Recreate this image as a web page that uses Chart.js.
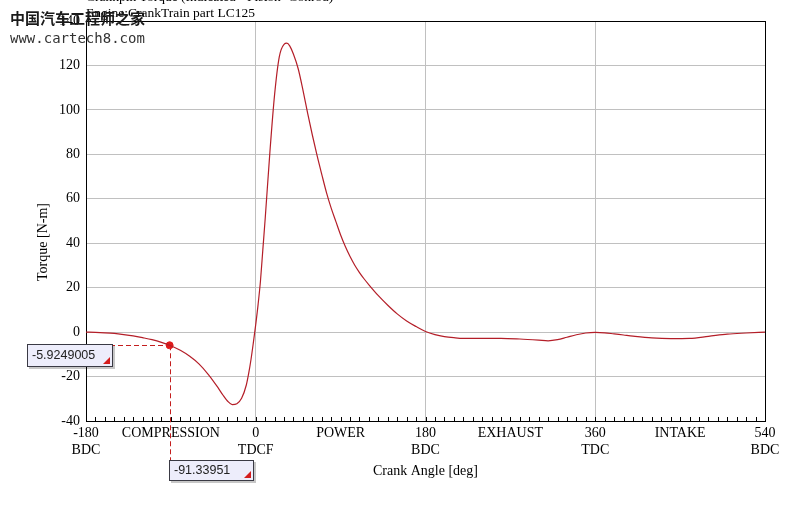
<!DOCTYPE html>
<html><head><meta charset="utf-8">
<script src="https://cdn.jsdelivr.net/npm/chart.js@4"></script>
<style>html,body{margin:0;padding:0;background:#fff;overflow:hidden;}</style>
</head><body>
<canvas id="c" width="805" height="514"></canvas>
<script>
const crankAngle = [-180,-170,-160,-150,-140,-130,-120,-110,-100,-91.33951,-80,-70,-60,-50,-40,-35,-30,-25,-20,-15,-10,-7.5,-5,-2.5,0,2.5,5,7.5,10,15,20,25,30,33,36,40,45,50,55,60,65,70,75,80,85,90,95,100,105,110,115,120,130,140,150,160,170,180,190,200,210,220,240,260,280,300,310,320,330,340,350,360,370,380,390,400,420,440,460,480,500,520,540];
const torque = [0,-0.1,-0.3,-0.6,-1.1,-1.7,-2.5,-3.4,-4.6,-5.9249005,-8.2,-10.9,-14.4,-19.2,-25.0,-28.2,-31.0,-32.6,-32.2,-29.8,-23.8,-18.6,-12.2,-4.6,3.5,12.5,23,37,51,81,107,124,129.5,130,128.8,125,118.5,109,98.5,88.7,79.5,71,62.8,55.8,49.7,43.7,38.5,34.0,30.1,26.8,23.9,21.3,16.4,12.1,8.2,5.0,2.5,0.3,-1.1,-2.0,-2.5,-2.8,-2.8,-2.8,-3.1,-3.6,-3.9,-3.4,-2.3,-1.2,-0.4,-0.1,-0.3,-0.8,-1.3,-1.8,-2.6,-2.9,-2.8,-1.9,-0.9,-0.4,0];
const cursorAngle = -91.33951;
const cursorTorque = -5.9249005;
const phaseTickValues = [-180,-90,0,90,180,270,360,450,540];
const phaseTickLabels = [["-180","BDC"],["COMPRESSION"],["0","TDCF"],["POWER"],["180","BDC"],["EXHAUST"],["360","TDC"],["INTAKE"],["540","BDC"]];
const xGridValues = [0,180,360];
const titleLines = ["Crankpin Torque (Indicated - Piston+Conrod)","Engine:CrankTrain part LC125"];
const watermarkLines = ["中国汽车工程师之家","www.cartech8.com"];
const xTitle = "Crank Angle [deg]";
const yTitle = "Torque [N-m]";

const SERIF = "'Liberation Serif', 'Times New Roman', serif";

function drawBox(ctx, x, y, w, h, text) {
  ctx.save();
  ctx.fillStyle = 'rgba(0,0,0,0.22)';
  ctx.fillRect(x + 2, y + 2, w, h);
  ctx.fillStyle = '#ededfb';
  ctx.fillRect(x, y, w, h);
  ctx.strokeStyle = '#3a3a44';
  ctx.lineWidth = 1;
  ctx.strokeRect(x + 0.5, y + 0.5, w - 1, h - 1);
  ctx.fillStyle = '#d41c1c';
  ctx.beginPath();
  ctx.moveTo(x + w - 3, y + h - 10);
  ctx.lineTo(x + w - 3, y + h - 3);
  ctx.lineTo(x + w - 10, y + h - 3);
  ctx.closePath();
  ctx.fill();
  ctx.fillStyle = '#222';
  ctx.font = "12.5px 'Liberation Sans', Arial, sans-serif";
  ctx.textAlign = 'left';
  ctx.textBaseline = 'middle';
  ctx.fillText(text, x + 5, y + h / 2 + 0.5);
  ctx.restore();
}

const overlay = {
  id: 'overlay',
  beforeDatasetsDraw(chart) {
    const ctx = chart.ctx, xs = chart.scales.x, ys = chart.scales.y, ca = chart.chartArea;
    ctx.save();
    ctx.strokeStyle = '#000';
    ctx.lineWidth = 1;
    ctx.beginPath();
    xs.ticks.forEach(t => {
      const px = Math.round(xs.getPixelForValue(t.value)) + 0.5;
      ctx.moveTo(px, ca.bottom);
      ctx.lineTo(px, ca.bottom - 4);
    });
    ctx.stroke();
    const px = xs.getPixelForValue(cursorAngle);
    const py = ys.getPixelForValue(cursorTorque);
    ctx.strokeStyle = '#c41e1e';
    ctx.setLineDash([5, 3]);
    ctx.beginPath();
    ctx.moveTo(ca.left, Math.round(py) + 0.5);
    ctx.lineTo(px, Math.round(py) + 0.5);
    ctx.moveTo(Math.round(px) + 0.5, py);
    ctx.lineTo(Math.round(px) + 0.5, ca.bottom + 39);
    ctx.stroke();
    ctx.restore();
  },
  afterDraw(chart) {
    const ctx = chart.ctx, xs = chart.scales.x, ys = chart.scales.y, ca = chart.chartArea;
    const px = xs.getPixelForValue(cursorAngle);
    const py = ys.getPixelForValue(cursorTorque);
    drawBox(ctx, ca.left - 59, Math.round(py) - 1, 86, 23, cursorTorque.toFixed(7));
    drawBox(ctx, Math.round(px) - 1, ca.bottom + 39, 85, 21, cursorAngle.toFixed(5));
    ctx.save();
    ctx.fillStyle = '#000';
    ctx.font = '13.5px ' + SERIF;
    ctx.textAlign = 'left';
    ctx.textBaseline = 'alphabetic';
    ctx.fillText(titleLines[0], ca.left, 0.5);
    ctx.fillText(titleLines[1], ca.left, 17);
    ctx.save();
    ctx.translate(43, 242);
    ctx.rotate(-Math.PI / 2);
    ctx.textAlign = 'center';
    ctx.textBaseline = 'middle';
    ctx.font = '14px ' + SERIF;
    ctx.fillText(yTitle, 0, 0);
    ctx.restore();
    ctx.fillStyle = '#1a1a1a';
    ctx.font = "bold 15px 'Noto Sans CJK SC', sans-serif";
    ctx.textBaseline = 'middle';
    ctx.fillText(watermarkLines[0], 10, 18);
    ctx.fillStyle = '#333';
    ctx.font = "14px 'DejaVu Sans Mono', monospace";
    ctx.fillText(watermarkLines[1], 10, 39);
    ctx.restore();
  }
};

new Chart(document.getElementById('c'), {
  type: 'line',
  data: {
    datasets: [
      {
        data: crankAngle.map((a, i) => ({x: a, y: torque[i]})),
        borderColor: '#b41e28',
        borderWidth: 1.2,
        pointRadius: 0,
        cubicInterpolationMode: 'monotone',
        fill: false
      },
      {
        data: [{x: cursorAngle, y: cursorTorque}],
        showLine: false,
        pointRadius: 3.5,
        pointBackgroundColor: '#e01c1c',
        pointBorderColor: '#e01c1c',
        clip: false
      }
    ]
  },
  options: {
    responsive: false,
    devicePixelRatio: 1,
    animation: false,
    layout: {padding: {top: 21, right: 40, bottom: 0, left: 0}},
    plugins: {legend: {display: false}, tooltip: {enabled: false}, title: {display: false}},
    scales: {
      x: {
        type: 'linear',
        min: -180, max: 540,
        afterBuildTicks(scale) {
          const t = [];
          for (let v = -180; v <= 540; v += 10) t.push({value: v});
          scale.ticks = t;
        },
        afterFit(scale) { scale.height = 93; },
        ticks: {
          autoSkip: false, maxRotation: 0, minRotation: 0, padding: 4,
          color: '#000',
          font: {family: SERIF, size: 14},
          callback(v) {
            const i = phaseTickValues.indexOf(v);
            return i >= 0 ? phaseTickLabels[i] : '';
          }
        },
        grid: {
          drawTicks: false,
          lineWidth: 1,
          color(ctx) {
            const v = ctx.tick ? ctx.tick.value : null;
            if (xGridValues.includes(v)) return '#c0c0c0';
            if (v === 540) return '#000';
            return 'rgba(0,0,0,0)';
          }
        },
        border: {color: '#000', width: 1},
        title: {display: true, text: xTitle, color: '#000', font: {family: SERIF, size: 14}, padding: {top: 0, bottom: 34}}
      },
      y: {
        min: -40, max: 140,
        afterFit(scale) { scale.width = 86; },
        ticks: {stepSize: 20, padding: 6, color: '#000', font: {family: SERIF, size: 14}},
        grid: {
          drawTicks: false,
          lineWidth: 1,
          color(ctx) {
            const v = ctx.tick ? ctx.tick.value : null;
            if (v === 140) return '#000';
            if (v === -40) return 'rgba(0,0,0,0)';
            return '#c0c0c0';
          }
        },
        border: {color: '#000', width: 1}
      }
    }
  },
  plugins: [overlay]
});
</script>
</body></html>
